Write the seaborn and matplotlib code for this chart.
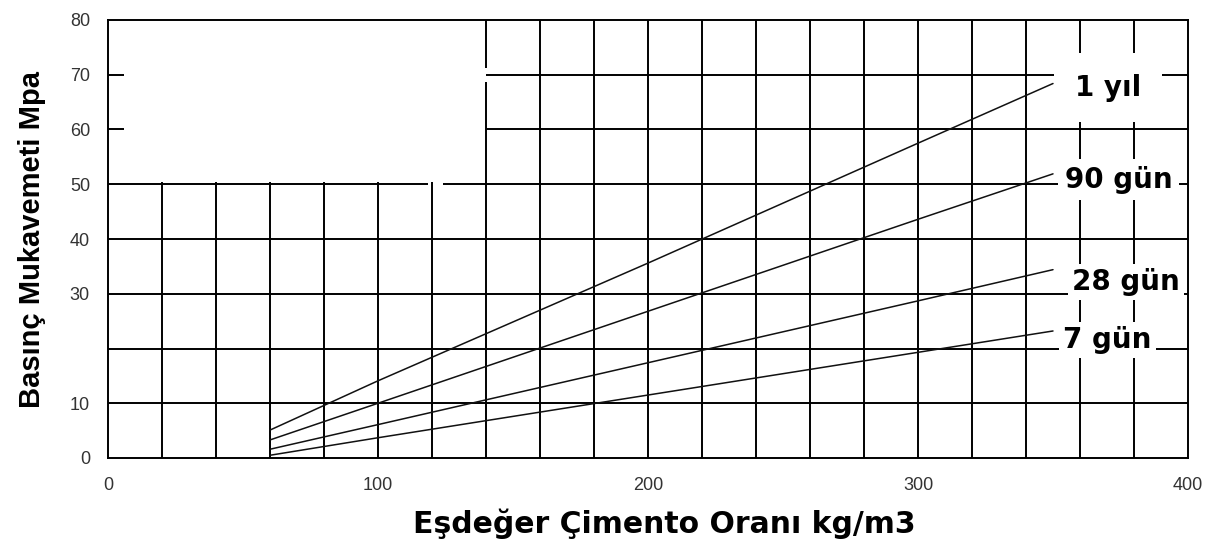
import numpy as np
import pandas as pd
import matplotlib
matplotlib.use("Agg")
import matplotlib.pyplot as plt
import seaborn as sns

# ---- data ----
cement = [60, 100, 200, 300, 350]
strength_1yil = [5.1, 14.1, 35.6, 57.5, 68.4]
strength_90gun = [3.3, 10.0, 26.8, 43.6, 51.9]
strength_28gun = [1.6, 6.1, 17.4, 28.7, 34.4]
strength_7gun = [0.5, 3.7, 11.5, 19.3, 23.2]
series_names = ["1 yıl", "90 gün", "28 gün", "7 gün"]
series_values = [strength_1yil, strength_90gun, strength_28gun, strength_7gun]
label_x = [358.0, 354.4, 357.0, 353.7]
label_y = [66.2, 49.4, 30.7, 20.1]
label_pad = [15, 5, 3, 3]
yticks = [0, 10, 20, 30, 40, 50, 60, 70, 80]
ytick_labels = ["0", "10", "", "30", "40", "50", "60", "70", "80"]
xticks = [0, 100, 200, 300, 400]

df = pd.DataFrame({
    "x": np.tile(cement, len(series_names)),
    "y": np.concatenate(series_values),
    "seri": np.repeat(series_names, len(cement)),
})

sns.set_theme(style="white")
plt.rcParams["font.family"] = ["DejaVu Sans"]

fig = plt.figure(figsize=(12.18, 5.44), dpi=100)
ax = fig.add_axes([108 / 1218, 1 - 458 / 544, 1080 / 1218, 438 / 544])

ax.set_xlim(0, 400)
ax.set_ylim(0, 80)

# grid (black, partially drawn like the reference)
gkw = dict(color="black", lw=1.4, zorder=1)
ax.hlines([10, 20, 30, 40], 0, 400, **gkw)
ax.hlines([50, 50], [0, 124.2], [118.5, 400], **gkw)
ax.hlines([60, 70], 140, 400, **gkw)
ax.hlines([60, 70], 0, 6, **gkw)
ax.vlines(np.arange(20, 121, 20), 0, 50.5, **gkw)
ax.vlines([140, 140], [0, 71.2], [68.6, 80], **gkw)
ax.vlines(np.arange(160, 400, 20), 0, 80, **gkw)

sns.lineplot(data=df, x="x", y="y", hue="seri", palette=["#111111"] * 4,
             linewidth=1.1, legend=False, ax=ax, zorder=2)

for name, lx, ly, pd_ in zip(series_names, label_x, label_y, label_pad):
    ax.text(lx, ly, name, fontsize=20, fontweight="bold", ha="left", va="baseline",
            zorder=5, clip_on=False, color="black",
            bbox=dict(facecolor="white", edgecolor="none", pad=pd_))

for s in ax.spines.values():
    s.set_color("black")
    s.set_linewidth(1.4)
    s.set_zorder(4)

ax.set_yticks(yticks)
ax.set_yticklabels(ytick_labels)
ax.set_xticks(xticks)
ax.tick_params(axis="both", direction="out", width=1.4, color="black",
               labelsize=13, labelcolor="#333333")
for lab in ax.get_xticklabels() + ax.get_yticklabels():
    lab.set_fontfamily("Liberation Sans")
ax.tick_params(axis="y", length=6, pad=7)
ax.tick_params(axis="x", length=3, pad=11)

ax.set_xlabel("Eşdeğer Çimento Oranı kg/m3", fontsize=21.5, fontweight="bold", color="black")
ax.xaxis.label.set_va("baseline")
ax.xaxis.set_label_coords((664 - 108) / 1080, (458 - 533) / 438)

ax.set_ylabel("Basınç Mukavemeti Mpa", fontsize=21, fontweight="bold", color="black",
              fontfamily="Liberation Sans")
ax.yaxis.label.set_va("baseline")
ax.yaxis.set_label_coords((40 - 108) / 1080, 0.5)

fig.savefig("out.png", dpi=100, facecolor="white")
